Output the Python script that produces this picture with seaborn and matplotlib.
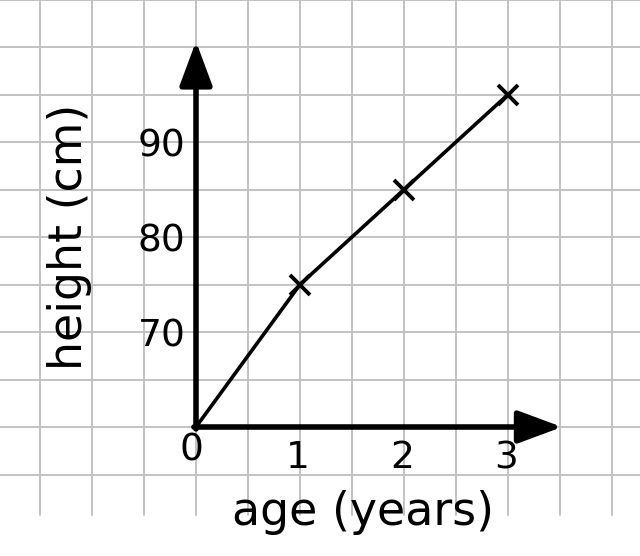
import numpy as np
import matplotlib
matplotlib.use("Agg")
import matplotlib.pyplot as plt
import seaborn as sns
import pandas as pd

# ---- data ----
ages = [0, 1, 2, 3]
heights = [60, 75, 85, 95]          # 60 = broken-axis origin (labelled "0")
x_tick_values = [0, 1, 2, 3]
x_tick_labels = ["0", "1", "2", "3"]
y_tick_values = [70, 80, 90]
y_tick_labels = ["70", "80", "90"]
x_label = "age (years)"
y_label = "height (cm)"

sns.set_theme(style="white")
plt.rcParams["font.family"] = ["DejaVu Sans"]
plt.rcParams["text.color"] = "black"

fig = plt.figure(figsize=(6.4, 5.56), dpi=100)
ax = fig.add_axes([0, 0, 1, 1])
XL = (-196 / 104, (640 - 196) / 104)
YL = (60 - 129 / 9.5, 60 + 427 / 9.5)
ax.set_xlim(*XL)
ax.set_ylim(*YL)
ax.axis("off")

grid_c = "#c2c2c2"
ymin_frac = (60 - 88 / 9.5 - YL[0]) / (YL[1] - YL[0])
for gx in np.arange(-1.5, 4.3, 0.5):
    ax.axvline(gx, ymin=ymin_frac, ymax=1, color=grid_c, lw=1.4, zorder=0)
for gy in np.arange(55, 106, 5):
    ax.axhline(gy, color=grid_c, lw=1.4, zorder=0)

# axes with arrows
style = "-|>,head_length=2.7,head_width=1.0"
ax.annotate("", xy=(0, 100.6), xytext=(0, 59.8),
            arrowprops=dict(arrowstyle=style, lw=4, color="black",
                            shrinkA=0, shrinkB=0, mutation_scale=10), zorder=3)
ax.annotate("", xy=(3.52, 60), xytext=(-0.02, 60),
            arrowprops=dict(arrowstyle=style, lw=4, color="black",
                            shrinkA=0, shrinkB=0, mutation_scale=10), zorder=3)

df = pd.DataFrame({"age": ages, "height": heights})
sns.lineplot(data=df, x="age", y="height", ax=ax, color="black", lw=2.6,
             marker="x", markersize=14, markeredgewidth=2.8,
             markeredgecolor="black", markevery=[1, 2, 3], zorder=4)
ax.set_xlim(*XL)
ax.set_ylim(*YL)
ax.axis("off")

fs = 27
for v, t in zip(x_tick_values, x_tick_labels):
    if v == 0:
        ax.text(-0.04, 57.5, t, ha="center", va="center", fontsize=fs, color="black")
    else:
        ax.text(v - 0.02, 56.7, t, ha="center", va="center", fontsize=fs, color="black")
for v, t in zip(y_tick_values, y_tick_labels):
    ax.text(-0.1, v - 0.5, t, ha="right", va="center", fontsize=fs, color="black")

ax.text(1.61, 51.0, x_label, ha="center", va="center", fontsize=33, color="black")
ax.text(-1.22, 80, y_label, ha="center", va="center", rotation=90, fontsize=33,
        color="black")

fig.savefig("out.png", dpi=100)
